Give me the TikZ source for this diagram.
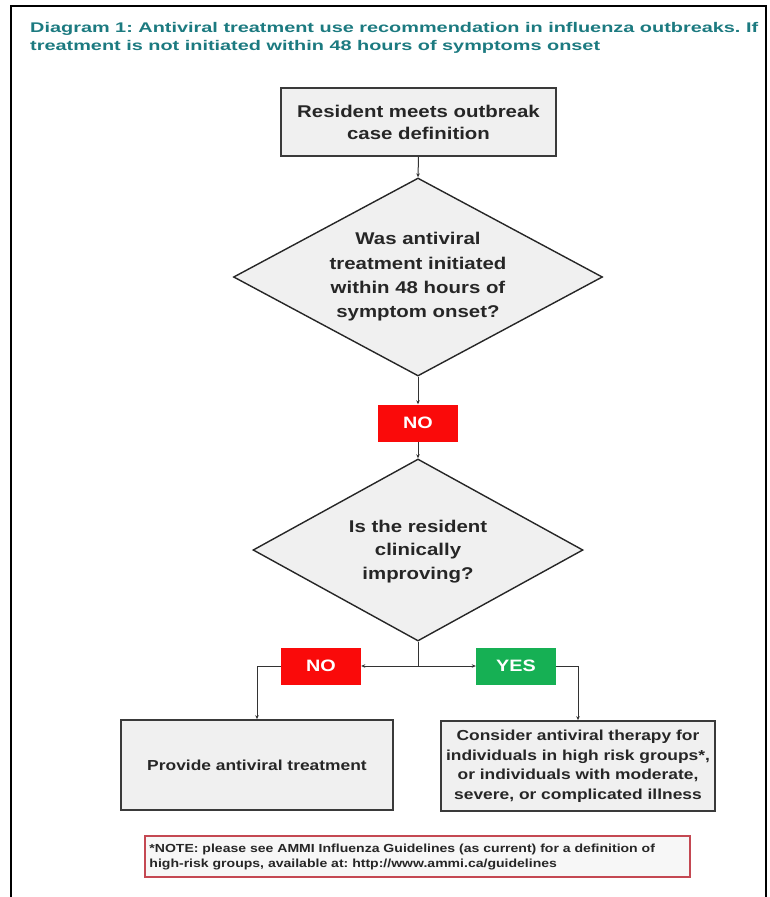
\documentclass[tikz,border=0pt]{standalone}
\usepackage{fontspec}
\setmainfont{Liberation Sans}[FakeStretch=1.2]
\newfontfamily\titlefont{Liberation Sans}[FakeStretch=1.42]
\usetikzlibrary{shapes.geometric,arrows.meta}
\frenchspacing
\definecolor{titlecol}{RGB}{28,122,128}
\definecolor{boxfill}{RGB}{240,240,240}
\definecolor{boxline}{RGB}{58,58,58}
\definecolor{nored}{RGB}{250,10,10}
\definecolor{yesgreen}{RGB}{22,176,84}
\definecolor{noteline}{RGB}{196,72,82}
\definecolor{notefill}{RGB}{247,247,247}
\tikzset{
  box/.style={draw=boxline, line width=1.8pt, fill=boxfill, rectangle, inner sep=0pt,
    align=center, font=\bfseries\fontsize{14.5}{19.5}\selectfont, text=black!85},
  dia/.style={draw=black!85, line width=1.4pt, fill=boxfill, diamond, inner sep=0pt},
  dtext/.style={align=center, inner sep=0pt, text=black!85},
  tag/.style={rectangle, inner sep=0pt, minimum width=80pt, minimum height=37pt,
    text=white, font=\bfseries\fontsize{16.5}{18}\selectfont},
  arr/.style={draw=black!80, line width=1pt, -{Stealth[length=4pt,width=3.5pt]}},
  ln/.style={draw=black!80, line width=1pt}
}
\begin{document}
\begin{tikzpicture}[x=1pt,y=-1pt]
\useasboundingbox (0,0) rectangle (769,897);
% frame
\draw[line width=2pt, black] (11,897) -- (11,6) -- (766,6) -- (766,897);
% title
\node[anchor=west, align=left, inner sep=0pt, text=titlecol,
  font=\titlefont\bfseries\fontsize{14}{18}\selectfont] (title) at (30,38)
  {Diagram 1: Antiviral treatment use recommendation in influenza outbreaks. If\\
   treatment is not initiated within 48 hours of symptoms onset};
% nodes
\node[box, minimum width=275pt, minimum height=68pt,
  font=\bfseries\fontsize{17}{22}\selectfont] (b1) at (418.5,122)
  {Resident meets outbreak\\case definition};
\node[dia, minimum width=369pt, minimum height=198pt,
  label={[dtext, font=\bfseries\fontsize{17}{24.3}\selectfont]center:{Was antiviral\\treatment initiated\\within 48 hours of\\symptom onset?}}]
  (d1) at (418,277) {};
\node[tag, fill=nored] (no1) at (418,423) {NO};
\node[dia, minimum width=330pt, minimum height=182pt,
  label={[dtext, font=\bfseries\fontsize{17}{23.5}\selectfont, yshift=-1.5pt]center:{Is the resident\\clinically\\improving?}}]
  (d2) at (418,550) {};
\coordinate (j) at (418,666);
\node[tag, fill=nored] (no2) at (321,666) {NO};
\node[tag, fill=yesgreen] (yes) at (516,666) {YES};
\node[box, minimum width=272pt, minimum height=90pt] (prov) at (257,765)
  {Provide antiviral treatment};
\node[box, minimum width=274pt, minimum height=90pt] (cons) at (578,766)
  {Consider antiviral therapy for\\individuals in high risk groups*,\\or individuals with moderate,\\severe, or complicated illness};
\node[draw=noteline, line width=1.5pt, fill=notefill, rectangle, minimum width=545pt,
  minimum height=41pt, inner sep=0pt] (note) at (417.5,856.5) {};
\node[anchor=west, align=left, inner sep=0pt, text=black!85,
  font=\bfseries\fontsize{11.7}{15}\selectfont] (notetext) at ([xshift=5pt,yshift=-0.5pt]note.west)
  {*NOTE: please see AMMI Influenza Guidelines (as current) for a definition of\\
   high-risk groups, available at: http://www.ammi.ca/guidelines};
% connectors
\draw[arr] (b1.south) -- (d1.north);
\draw[arr] (d1.south) -- (no1.north);
\draw[arr] (no1.south) -- (d2.north);
\draw[ln] (d2.south) -- (j);
\draw[arr] (j) -- (no2.east);
\draw[arr] (j) -- (yes.west);
\draw[arr] (no2.west) -| (prov.north);
\draw[arr] (yes.east) -| (cons.north);
\end{tikzpicture}
\end{document}
